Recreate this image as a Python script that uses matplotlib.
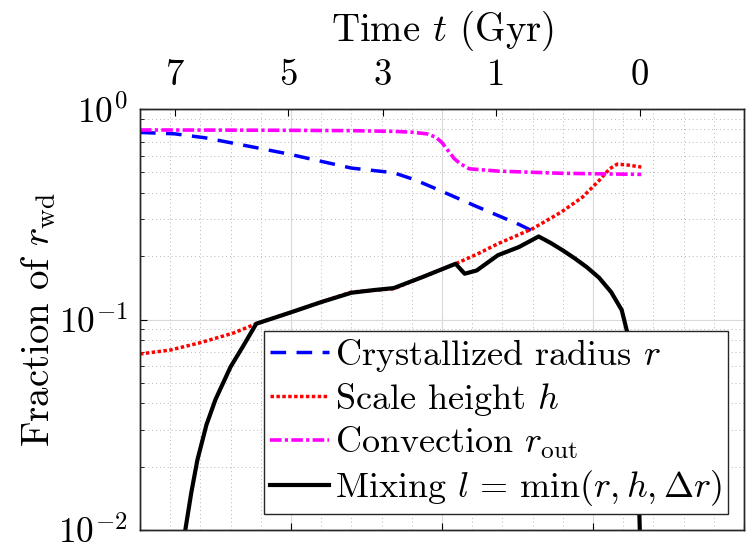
import numpy as np
import matplotlib
matplotlib.use('Agg')
import matplotlib.pyplot as plt
from matplotlib.ticker import MultipleLocator, LogLocator, NullFormatter

plt.rcParams['font.family'] = 'serif'
plt.rcParams['font.serif'] = ['cmr10']
plt.rcParams['mathtext.fontset'] = 'cm'
plt.rcParams['axes.formatter.use_mathtext'] = True

# bottom axis is an internal coordinate (0..4), top axis shows age in Gyr
top_tick_pos = [0.23, 0.98, 1.61, 2.36, 3.31]
top_tick_lab = ['7', '5', '3', '1', '0']

# convection r_out
u_conv = [0, 0.5, 1.0, 1.4, 1.68, 1.80, 1.90, 1.96, 2.00, 2.04, 2.08, 2.12, 2.18, 2.37, 2.79, 3.32]
f_conv = [0.795, 0.794, 0.792, 0.789, 0.783, 0.776, 0.762, 0.734, 0.692, 0.635, 0.582, 0.550,
          0.520, 0.507, 0.495, 0.489]

# crystallized radius r
u_cry = [0, 0.23, 0.43, 0.70, 0.98, 1.40, 1.68, 1.82, 1.96, 2.23, 2.51, 2.60]
f_cry = [0.774, 0.762, 0.730, 0.670, 0.612, 0.524, 0.498, 0.461, 0.418, 0.344, 0.283, 0.263]

# scale height h
u_h = [0, 0.2, 0.40, 0.62, 0.77, 0.98, 1.20, 1.40, 1.68, 1.87, 2.09, 2.23, 2.37, 2.60, 2.79,
       2.93, 3.04, 3.11, 3.16, 3.22, 3.32]
f_h = [0.0686, 0.0716, 0.0776, 0.0863, 0.0955, 0.107, 0.121, 0.135, 0.140, 0.159, 0.184,
       0.204, 0.229, 0.270, 0.324, 0.381, 0.457, 0.520, 0.547, 0.543, 0.530]

# mixing length l
u_mix = [0.30, 0.34, 0.38, 0.44, 0.50, 0.60, 0.68, 0.77, 0.98, 1.20, 1.40, 1.55, 1.68, 1.87,
         2.09, 2.15, 2.23, 2.37, 2.51, 2.64, 2.72, 2.80, 2.88, 2.96, 3.04, 3.12, 3.19, 3.23,
         3.26, 3.285, 3.30, 3.31]
f_mix = [0.0100, 0.0151, 0.0215, 0.0316, 0.0417, 0.0596, 0.0741, 0.0955, 0.107, 0.121, 0.134,
         0.138, 0.141, 0.159, 0.184, 0.165, 0.171, 0.202, 0.221, 0.248, 0.231, 0.213, 0.195,
         0.177, 0.158, 0.135, 0.111, 0.0851, 0.0562, 0.0316, 0.0178, 0.0100]

fig = plt.figure(figsize=(7.56, 5.54), dpi=100)
ax = fig.add_axes([140/756, 24/554, 604/756, 421/554])

ax.plot(u_cry, f_cry, color=(0, 0, 1), lw=2.5, ls=(0, (4.5, 3)), label=r'Crystallized radius $r$')
ax.plot(u_h, f_h, color=(1, 0, 0), lw=2.5, ls=(0, (1, 0.7)), label=r'Scale height $h$')
ax.plot(u_conv, f_conv, color=(1, 0, 1), lw=2.6, ls=(0, (3.2, 0.9, 0.9, 0.9)),
        label=r'Convection $r_{\rm out}$')
ax.plot(u_mix, f_mix, color='k', lw=3, label=r'Mixing $l\,{=}\,\min(r,h,\Delta r)$')

ax.set_yscale('log')
ax.set_ylim(1e-2, 1)
ax.set_xlim(0, 4)
ax.xaxis.set_major_locator(MultipleLocator(1))
ax.xaxis.set_minor_locator(MultipleLocator(0.2))
ax.yaxis.set_minor_locator(LogLocator(base=10, subs=np.arange(2, 10)))
ax.yaxis.set_minor_formatter(NullFormatter())
ax.tick_params(axis='x', which='both', labelbottom=False, direction='in')
ax.tick_params(axis='x', which='major', length=5, width=0.8)
ax.tick_params(axis='x', which='minor', length=0)
ax.tick_params(axis='y', which='major', direction='in', length=5, width=0.8, labelsize=25.5, pad=9)
ax.tick_params(axis='y', which='minor', direction='in', length=3, width=0.6)

ax.grid(True, which='major', color='#d9d9d9', lw=0.8, ls='-')
ax.grid(True, which='minor', color='#b5b5b5', lw=0.7, ls=(0, (1, 3)))
ax.set_axisbelow(True)
for s in ax.spines.values():
    s.set_linewidth(1.0)
    s.set_color('#262626')

ax.set_ylabel(r'Fraction of $r_{\rm wd}$', fontsize=28, labelpad=0)

ax2 = ax.twiny()
ax2.set_xlim(ax.get_xlim())
ax2.set_xticks(top_tick_pos)
ax2.set_xticklabels(top_tick_lab)
ax2.tick_params(axis='x', direction='in', length=5, width=0.8, labelsize=26.5, pad=12)
ax2.set_xlabel(r'Time $t$ (Gyr)', fontsize=28, labelpad=13)
ax2.xaxis.set_minor_locator(plt.NullLocator())
for s in ax2.spines.values():
    s.set_linewidth(1.0)
    s.set_color('#262626')

leg = ax.legend(loc='lower right', bbox_to_anchor=(1, 0), borderaxespad=0.45, fontsize=26,
                handlelength=1.65, handletextpad=0.17, labelspacing=0.2, borderpad=0.15,
                fancybox=False, framealpha=1, edgecolor='#262626')
leg.get_frame().set_linewidth(1.0)

fig.savefig('out.png', dpi=100)
